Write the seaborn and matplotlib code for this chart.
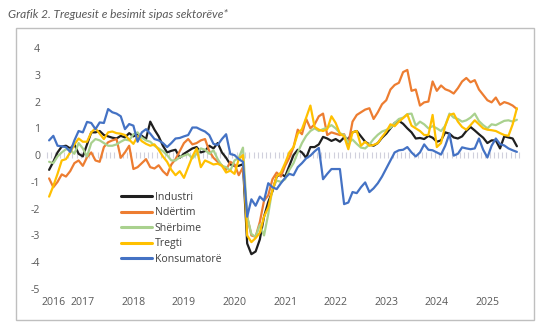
import numpy as np
import pandas as pd
import matplotlib
matplotlib.use("Agg")
import matplotlib.pyplot as plt
import seaborn as sns
from matplotlib.patches import Rectangle

# ---------------- data ----------------
months = pd.period_range("2016-05", "2025-08", freq="M")

industri = [-0.55,-0.25,0.1,0.32,0.35,0.25,0.4,0.05,-0.05,0.4,
            0.85,0.85,0.9,0.75,0.7,0.65,0.62,0.72,0.66,0.82,
            0.7,0.78,0.72,0.6,1.25,0.95,0.7,0.35,0.1,0.16,
            0.2,-0.1,0.05,0.15,0.25,0.3,0.1,0.15,0.35,0.25,
            0.45,0.1,-0.1,-0.35,-0.4,-0.4,-0.34,-3.3,-3.7,-3.6,
            -3.15,-2.3,-1.75,-1.35,-0.8,-0.7,-0.8,-0.4,0.0,0.2,
            0.1,-0.1,0.3,0.3,0.4,0.68,0.62,0.53,0.6,0.5,
            0.66,0.6,0.85,0.9,0.7,0.5,0.4,0.35,0.45,0.65,
            0.8,1.0,1.2,1.28,1.17,1.0,0.85,0.62,0.64,0.6,
            0.72,0.65,0.5,0.55,0.85,0.8,0.66,0.62,0.7,0.9,
            1.05,0.92,0.78,0.65,0.45,0.55,0.55,0.25,0.7,0.66,
            0.62,0.33]

ndertim = [-0.87,-1.2,-1.0,-0.72,-0.8,-0.6,-0.3,-0.2,-0.4,-0.08,
           0.1,-0.2,-0.25,0.3,0.48,0.55,0.6,-0.1,0.1,0.35,
           -0.52,-0.45,-0.3,-0.15,-0.45,-0.5,-0.38,-0.6,-0.75,-0.35,
           -0.15,0.15,0.45,0.6,0.4,0.45,0.55,0.6,0.15,-0.1,
           -0.25,-0.38,-0.55,-0.25,-0.35,-0.75,-0.45,-2.3,-3.0,-3.05,
           -2.5,-1.7,-1.5,-0.9,-0.65,-0.8,-0.4,-0.1,0.3,0.95,
           0.78,1.35,1.0,1.15,1.45,1.55,0.75,0.85,0.8,0.75,
           0.78,0.42,1.25,1.5,1.6,1.7,1.75,1.35,1.6,1.9,
           2.05,2.45,2.62,2.7,3.1,3.18,2.4,2.45,1.85,1.97,
           2.0,2.75,2.4,2.6,2.46,2.4,2.3,2.5,2.75,2.88,
           2.72,2.8,2.45,2.25,2.05,1.97,2.15,1.88,1.98,1.93,
           1.85,1.72]

sherbime = [-0.25,-0.3,-0.05,0.1,0.22,0.2,0.05,0.45,0.25,-0.05,
            0.45,0.6,0.55,0.45,0.35,0.35,0.4,0.5,0.58,0.55,
            0.78,0.85,0.65,0.55,0.5,0.35,0.25,0.15,0.0,-0.2,
            -0.2,-0.08,-0.02,0.04,-0.12,0.05,0.25,0.2,0.05,0.18,
            -0.15,-0.4,-0.45,-0.58,-0.2,-0.1,0.28,-2.3,-2.95,-3.05,
            -2.6,-3.0,-2.2,-1.25,-0.95,-1.0,-0.9,-0.55,-0.3,0.1,
            0.45,0.72,0.9,1.0,0.9,0.97,1.02,1.12,1.0,0.82,
            0.75,0.47,0.58,0.42,0.28,0.25,0.4,0.6,0.76,0.88,
            0.94,1.02,1.2,1.35,1.4,1.53,1.55,1.1,1.25,1.15,
            1.0,1.08,1.0,0.9,1.1,1.55,1.4,1.35,1.25,1.3,
            1.4,1.55,1.27,1.12,1.0,1.15,1.12,1.2,1.28,1.3,
            1.25,1.32]

tregti = [-1.55,-1.15,-0.7,-0.2,-0.15,0.1,0.4,0.62,0.5,0.5,
          0.85,1.0,0.8,0.6,0.85,0.88,0.82,0.8,0.75,0.58,
          0.42,0.7,0.52,0.42,0.35,0.4,0.2,-0.05,-0.25,-0.55,
          -0.75,-0.6,-0.85,-0.45,-0.05,0.25,-0.45,-0.2,-0.27,-0.35,
          -0.32,-0.4,-0.65,-0.58,-0.7,-0.15,0.0,-3.0,-3.25,-3.1,
          -2.9,-2.3,-1.95,-1.3,-0.8,-0.65,-0.3,0.1,0.3,0.8,
          0.97,1.4,1.85,1.05,0.95,0.9,0.97,1.45,1.2,0.8,
          0.7,0.22,0.85,0.9,0.35,0.5,0.35,0.38,0.45,0.68,
          0.88,1.15,1.08,1.25,1.38,1.52,1.1,1.0,0.9,0.75,
          0.75,1.5,0.3,0.45,1.1,1.5,1.55,1.25,1.05,0.95,
          1.12,1.3,1.15,1.0,0.95,0.93,0.9,0.82,0.75,0.72,
          1.15,1.75]

konsumatore = [0.55,0.72,0.35,0.33,0.3,0.12,0.55,0.9,0.85,1.24,
               1.2,0.97,1.22,1.2,1.72,1.6,1.55,1.45,0.97,1.16,
               1.1,0.5,0.85,0.97,0.8,0.6,0.55,0.45,0.3,0.45,
               0.62,0.64,0.7,0.75,1.03,1.03,0.95,0.88,0.75,0.42,
               0.38,0.6,0.78,0.04,0.0,-0.15,-0.25,-2.3,-1.65,-1.89,
               -1.55,-1.7,-1.05,-1.2,-1.27,-1.05,-0.85,-0.7,-0.75,-0.45,
               -0.3,-0.12,-0.02,0.14,0.27,-0.9,-0.7,-0.52,-0.52,-0.52,
               -1.83,-1.77,-1.38,-1.42,-1.2,-1.02,-1.38,-1.24,-1.05,-0.8,
               -0.5,-0.2,0.1,0.18,0.2,0.3,0.1,-0.05,0.1,0.4,
               0.2,0.18,0.1,0.02,0.35,0.8,-0.02,0.05,0.29,0.25,
               0.22,0.25,0.62,0.2,-0.09,0.35,0.62,0.41,0.36,0.25,
               0.18,0.12]

series_names = ["Industri", "Ndërtim", "Shërbime", "Tregti", "Konsumatorë"]
series_colors = ["#1f1f1f", "#ED7D31", "#A9D18E", "#FFC000", "#4472C4"]
year_labels = ["2016", "2017", "2018", "2019", "2020", "2021", "2022", "2023", "2024", "2025"]
y_ticks = [4, 3, 2, 1, 0, -1, -2, -3, -4, -5]

title = "Grafik 2. Treguesit e besimit sipas sektorëve*"

# ---------------- frame ----------------
idx = np.arange(len(months))
df = pd.DataFrame({"x": idx, "Industri": industri, "Ndërtim": ndertim,
                   "Shërbime": sherbime, "Tregti": tregti, "Konsumatorë": konsumatore})
long = df.melt(id_vars="x", var_name="series", value_name="value")

sns.set_theme(style="white")
plt.rcParams["font.family"] = ["Open Sans", "DejaVu Sans"]

W, H = 554, 329
fig = plt.figure(figsize=(W / 100, H / 100), dpi=100)
ax = fig.add_axes([47 / W, 1 - 289 / H, (519 - 47) / W, (289 - 48) / H])

sns.lineplot(data=long, x="x", y="value", hue="series", hue_order=series_names,
             palette=dict(zip(series_names, series_colors)), linewidth=1.6,
             ax=ax, legend=True)

n = len(months)
ax.set_xlim(-0.5, n - 0.5)
ax.set_ylim(min(y_ticks), max(y_ticks))
ax.set_xlabel("")
ax.set_ylabel("")

# year tick labels
year_pos = []
for y in year_labels:
    p = [i for i, m in enumerate(months) if m.year == int(y) and m.month == 1]
    year_pos.append(p[0] if p else 1)
ax.set_xticks(year_pos)
ax.set_xticklabels(year_labels)
ax.set_yticks(y_ticks)
ax.set_yticklabels([str(v) for v in y_ticks])
ax.tick_params(axis="x", length=0, pad=6, labelsize=7.6, labelcolor="#595959")
ax.tick_params(axis="y", length=0, pad=5, labelsize=7.6, labelcolor="#595959")
for s in ax.spines.values():
    s.set_visible(False)
ax.grid(False)

# category axis through zero with monthly tick marks
sec = ax.secondary_xaxis(5 / 9)
sec.set_xticks(np.arange(-0.5, n, 1.0))
sec.tick_params(axis="x", direction="inout", length=5, width=0.8,
                color="#d0d0dc", labelbottom=False, labeltop=False)
sec.spines["bottom"].set_color("#d9d9d9")
sec.spines["bottom"].set_linewidth(1.0)
sec.spines["top"].set_visible(False)
sec.set_zorder(0)

# legend
handles, labels = ax.get_legend_handles_labels()
leg = ax.legend(handles, labels, loc="upper left",
                bbox_to_anchor=(121 / W, 1 - 192 / H), bbox_transform=fig.transFigure,
                frameon=False, fontsize=7.6, handlelength=2.9, handletextpad=0.3,
                labelspacing=0.42, borderpad=0, borderaxespad=0)
for t in leg.get_texts():
    t.set_color("#404040")
for l in leg.get_lines():
    l.set_linewidth(2.2)

# title and outer frame
fig.text(8 / W, 1 - 14 / H, title, ha="left", va="center", fontsize=8.6,
         style="italic", color="#595959", family=["Lato", "DejaVu Sans"])
fig.patches.append(Rectangle((16 / W, 1 - 320 / H), (534 - 16) / W, (320 - 28) / H,
                             transform=fig.transFigure, fill=False,
                             edgecolor="#bfbfbf", linewidth=1.0))

fig.savefig("out.png", dpi=100)
